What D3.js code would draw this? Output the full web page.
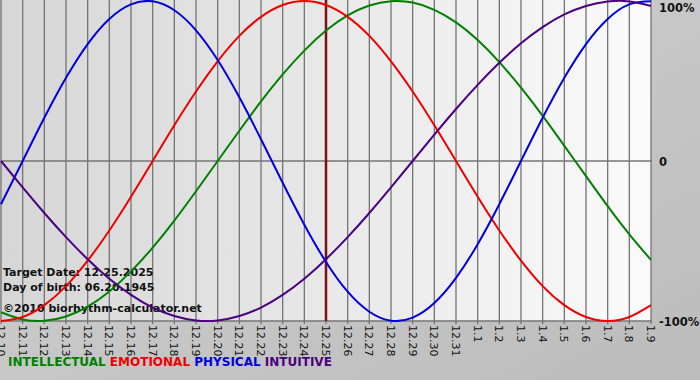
<!DOCTYPE html>
<html>
<head>
<meta charset="utf-8">
<script src="https://cdn.jsdelivr.net/npm/d3@7"></script>
<style>
  body { margin: 0; background: #c4c4c4; }
  svg { display: block; }
</style>
</head>
<body>
<div id="chart"></div>
<script>
// days shown on the axis
const days = ['12.10', '12.11', '12.12', '12.13', '12.14', '12.15', '12.16', '12.17', '12.18', '12.19',
  '12.20', '12.21', '12.22', '12.23', '12.24', '12.25', '12.26', '12.27', '12.28', '12.29', '12.30',
  '12.31', '1.1', '1.2', '1.3', '1.4', '1.5', '1.6', '1.7', '1.8', '1.9']
const targetDay = '12.25'

// cycle values per day (-1 .. 1)
const intellectual = [-0.945, -0.990, -0.999, -0.972, -0.910, -0.815, -0.690, -0.541, -0.372, -0.189,
  0.000, 0.189, 0.372, 0.541, 0.690, 0.815, 0.910, 0.972, 0.999, 0.990, 0.945, 0.866, 0.756, 0.618,
  0.458, 0.282, 0.095, -0.095, -0.282, -0.458, -0.618]
const emotional = [-1.000, -0.975, -0.901, -0.782, -0.623, -0.434, -0.223, 0.000, 0.223, 0.434,
  0.623, 0.782, 0.901, 0.975, 1.000, 0.975, 0.901, 0.782, 0.623, 0.434, 0.223, 0.000, -0.223, -0.434,
  -0.623, -0.782, -0.901, -0.975, -1.000, -0.975, -0.901]
const physical = [-0.270, 0.000, 0.270, 0.520, 0.731, 0.888, 0.979, 0.998, 0.942, 0.817, 0.631,
  0.398, 0.136, -0.136, -0.398, -0.631, -0.817, -0.942, -0.998, -0.979, -0.888, -0.731, -0.520,
  -0.270, 0.000, 0.270, 0.520, 0.731, 0.888, 0.979, 0.998]
const intuitive = [0.000, -0.165, -0.325, -0.476, -0.614, -0.736, -0.837, -0.916, -0.969, -0.997,
  -0.997, -0.969, -0.916, -0.837, -0.736, -0.614, -0.476, -0.325, -0.165, 0.000, 0.165, 0.325, 0.476,
  0.614, 0.736, 0.837, 0.916, 0.969, 0.997, 0.997, 0.969]

const yTicks = [1, 0, -1]
const yTickLabels = ['100%', '0', '-100%']
const infoLines = ['Target Date: 12.25.2025', 'Day of birth: 06.20.1945', '\u00a92010 biorhythm-calculator.net']

const series = [
  { name: 'INTELLECTUAL', values: intellectual, color: '#008000' },
  { name: 'EMOTIONAL', values: emotional, color: '#ee0000' },
  { name: 'PHYSICAL', values: physical, color: '#0000dd' },
  { name: 'INTUITIVE', values: intuitive, color: '#4b0082' }
]

const W = 700
const H = 380
const plot = { left: 1, right: 651, top: 1, bottom: 321 }
const font = 'Verdana, DejaVu Sans, sans-serif'

const svg = d3.select('#chart').append('svg')
  .attr('width', W)
  .attr('height', H)

const defs = svg.append('defs')
const bg = defs.append('linearGradient').attr('id', 'bg')
bg.append('stop').attr('offset', '0%').attr('stop-color', '#d6d6d6')
bg.append('stop').attr('offset', '100%').attr('stop-color', '#fafafa')
const outer = defs.append('linearGradient').attr('id', 'outer')
  .attr('x1', 0).attr('y1', 0).attr('x2', 1).attr('y2', 1)
outer.append('stop').attr('offset', '0%').attr('stop-color', '#d2d2d2')
outer.append('stop').attr('offset', '100%').attr('stop-color', '#bcbcbc')

svg.append('rect').attr('width', W).attr('height', H).attr('fill', 'url(#outer)')

const x = d3.scalePoint().domain(days).range([plot.left, plot.right])
const y = d3.scaleLinear().domain([-1, 1]).range([plot.bottom, plot.top])

svg.append('rect')
  .attr('x', plot.left).attr('y', 0)
  .attr('width', plot.right - plot.left).attr('height', plot.bottom)
  .attr('fill', 'url(#bg)')

// vertical grid
svg.append('g')
  .selectAll('line')
  .data(days)
  .join('line')
  .attr('x1', d => x(d)).attr('x2', d => x(d))
  .attr('y1', 0).attr('y2', plot.bottom + 3)
  .attr('stroke', '#747474')
  .attr('stroke-width', 1.3)

// horizontal lines
svg.append('g')
  .selectAll('line')
  .data([0, -1])
  .join('line')
  .attr('x1', plot.left).attr('x2', plot.right + 1)
  .attr('y1', d => y(d)).attr('y2', d => y(d))
  .attr('stroke', '#747474')
  .attr('stroke-width', 1.3)

// target day marker
svg.append('line')
  .attr('x1', x(targetDay)).attr('x2', x(targetDay))
  .attr('y1', 0).attr('y2', plot.bottom)
  .attr('stroke', '#7a1010')
  .attr('stroke-width', 2.5)

// info text
svg.append('g')
  .selectAll('text')
  .data(infoLines)
  .join('text')
  .attr('x', 3)
  .attr('y', (d, i) => [276, 291, 312][i])
  .attr('font-family', font)
  .attr('font-weight', 'bold')
  .attr('font-size', 11)
  .attr('fill', '#111')
  .text(d => d)

// curves
const line = d3.line()
  .x((d, i) => x(days[i]))
  .y(d => y(d))
  .curve(d3.curveNatural)

svg.append('g')
  .selectAll('path')
  .data(series)
  .join('path')
  .attr('d', d => line(d.values))
  .attr('fill', 'none')
  .attr('stroke', d => d.color)
  .attr('stroke-width', 2)

// date labels
svg.append('g')
  .selectAll('text')
  .data(days)
  .join('text')
  .attr('transform', d => `translate(${x(d) - 4},${plot.bottom + 4}) rotate(90)`)
  .attr('font-family', font)
  .attr('font-size', 11)
  .attr('fill', '#111')
  .text(d => d)

// right labels
svg.append('g')
  .selectAll('text')
  .data(yTicks)
  .join('text')
  .attr('x', 659)
  .attr('y', d => Math.max(y(d) + 5, 12))
  .attr('font-family', font)
  .attr('font-weight', 'bold')
  .attr('font-size', 11.5)
  .attr('fill', '#111')
  .text((d, i) => yTickLabels[i])

// legend
const legend = svg.append('text')
  .attr('x', 8)
  .attr('y', 366)
  .attr('font-family', font)
  .attr('font-weight', 'bold')
  .attr('font-size', 12)
series.forEach((s, i) => {
  legend.append('tspan')
    .attr('fill', s.color)
    .text((i ? ' ' : '') + s.name)
})
</script>
</body>
</html>
